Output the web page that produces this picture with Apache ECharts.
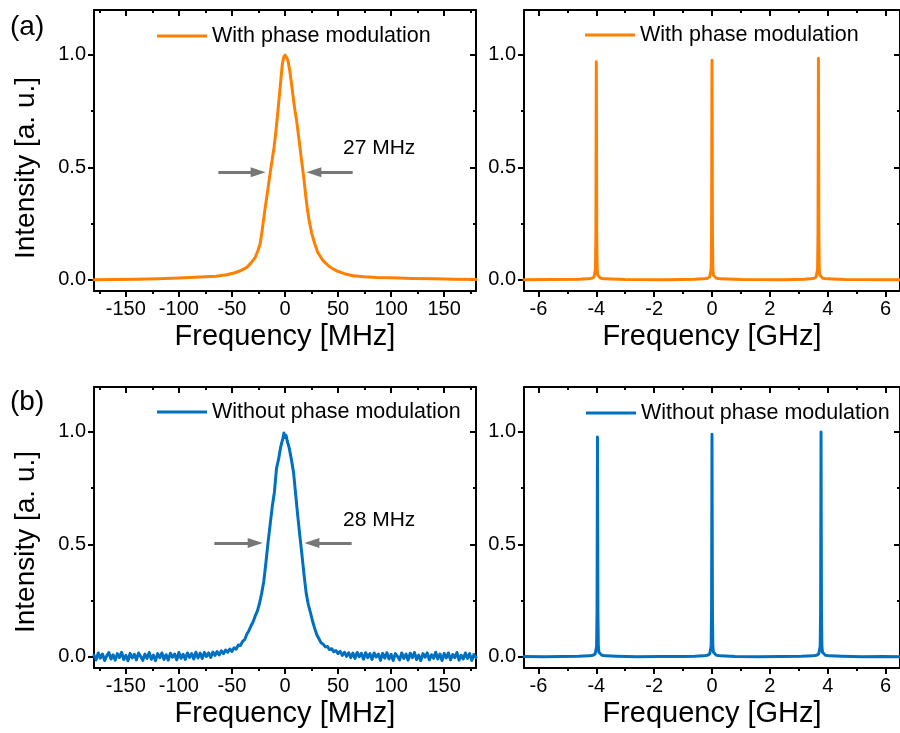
<!DOCTYPE html>
<html>
<head>
<meta charset="utf-8">
<script src="https://cdn.jsdelivr.net/npm/echarts@6/dist/echarts.min.js"></script>
<style>html,body{margin:0;padding:0;background:#fff;}#c{width:900px;height:733px;}</style>
</head>
<body>
<div id="c"></div>
<script>
// ---- data ----
const seriesNames = ['With phase modulation', 'Without phase modulation'];
const colors = ['#FF8000', '#0070C0'];

// (a) left: with phase modulation, MHz
const aFreq = [-180,-160,-140,-120,-100,-80,-65,-55,-48,-42,-36,-32,-28,-25.5,-23.4,-21.5,-20.3,-18.7,-17.2,-15.6,-14.1,-12.2,-10.3,-8.7,-7.2,-5.5,-4,-2.5,-1.2,0,1,2,3,4.5,6.2,8,9.5,10.9,12.5,14.1,15.6,17.2,18.5,19.7,21.2,22.8,25,28.1,31,35.9,42,48.4,56,64,75,86,100,120,140,160,180];
const aInt = [0.000,0.001,0.002,0.005,0.008,0.012,0.016,0.022,0.030,0.040,0.055,0.075,0.100,0.130,0.160,0.220,0.263,0.320,0.367,0.420,0.472,0.530,0.590,0.655,0.725,0.810,0.885,0.960,0.990,1.000,0.995,0.985,0.970,0.930,0.870,0.800,0.750,0.710,0.650,0.590,0.530,0.472,0.420,0.367,0.310,0.263,0.210,0.159,0.120,0.085,0.058,0.040,0.027,0.018,0.013,0.010,0.009,0.006,0.004,0.002,0.001];

// (b) left: without phase modulation, MHz
const bFreq = [
-180,-178,-176,-174,-172,-170,-168,-166,-164,-162,
-160,-158,-156,-154,-152,-150,-148,-146,-144,-142,
-140,-138,-136,-134,-132,-130,-128,-126,-124,-122,
-120,-118,-116,-114,-112,-110,-108,-106,-104,-102,
-100,-98,-96,-94,-92,-90,-88,-86,-84,-82,
-80,-78,-76,-74,-72,-70,-68,-66,-64,-62,
-60,-58,-56,-54,-52,-50,-48,-46,-44,-42,
-40,-38,-36,-34,-32,-30,-28,-26,-24,-22,
-20,-18,-16,-14,-12,-10,-8,-6,-4,-2,
-1,0,1,
2,4,6,8,10,12,14,16,18,20,
22,24,26,28,30,32,34,36,38,40,
42,44,46,48,50,52,54,56,58,60,
62,64,66,68,70,72,74,76,78,80,
82,84,86,88,90,92,94,96,98,100,
102,104,106,108,110,112,114,116,118,120,
122,124,126,128,130,132,134,136,138,140,
142,144,146,148,150,152,154,156,158,160,
162,164,166,168,170,172,174,176,178,180];
const bInt = [
0.007,-0.014,0.017,-0.006,0.012,-0.017,0.004,0.019,-0.010,0.009,
-0.015,0.014,-0.003,0.020,-0.012,0.006,-0.018,0.015,-0.005,0.011,
-0.014,0.017,0.001,-0.016,0.012,-0.007,0.019,-0.011,0.007,-0.017,
0.014,-0.004,0.017,-0.012,0.009,-0.015,0.016,-0.002,0.012,-0.014,
0.019,-0.007,0.011,-0.012,0.017,-0.003,0.014,-0.010,0.020,-0.005,
0.016,-0.008,0.019,0.001,0.017,-0.003,0.021,0.006,0.023,0.008,
0.026,0.014,0.030,0.020,0.034,0.024,0.040,0.034,0.052,0.050,
0.068,0.076,0.100,0.116,0.138,0.156,0.182,0.204,0.238,0.282,
0.335,0.418,0.508,0.588,0.668,0.732,0.838,0.880,0.935,0.972,
0.995,0.975,0.985,
0.962,0.928,0.878,0.822,0.725,0.628,0.538,0.452,0.362,0.282,
0.232,0.196,0.158,0.126,0.098,0.080,0.062,0.056,0.044,0.046,
0.032,0.036,0.022,0.028,0.014,0.024,0.006,0.020,0.002,0.018,
-0.004,0.016,-0.007,0.019,0.000,0.015,-0.011,0.018,-0.004,0.014,
-0.012,0.017,-0.001,0.012,-0.016,0.015,-0.006,0.018,-0.010,0.011,
-0.017,0.014,0.002,-0.014,0.017,-0.007,0.012,-0.015,0.016,-0.004,
0.019,-0.012,0.007,-0.017,0.014,-0.002,0.017,-0.014,0.009,-0.007,
0.020,-0.010,0.012,-0.017,0.015,-0.005,0.017,-0.014,0.010,-0.004,
0.019,-0.015,0.007,-0.010,0.017,-0.007,0.014,-0.017,0.010,-0.003];

// (a) right: with phase modulation, GHz
const cFreq = [-6.5,-5.5,-4.6,-4.3,-4.15,-4.08,-4.05,-4.03,-4.015,-4.007,-4.0,-3.993,-3.985,-3.97,-3.95,-3.92,-3.85,-3.7,-3.0,-1.5,-0.6,-0.3,-0.15,-0.08,-0.05,-0.03,-0.015,-0.007,0.0,0.007,0.015,0.03,0.05,0.08,0.15,0.3,1.0,2.5,3.2,3.38,3.53,3.6,3.63,3.65,3.665,3.673,3.68,3.687,3.695,3.71,3.73,3.76,3.83,3.98,4.6,6.5];
const cInt = [0.000,0.001,0.002,0.004,0.007,0.012,0.020,0.045,0.200,0.600,0.970,0.600,0.200,0.045,0.020,0.012,0.007,0.004,0.001,0.000,0.002,0.004,0.007,0.012,0.020,0.045,0.200,0.600,0.976,0.600,0.200,0.045,0.020,0.012,0.007,0.004,0.001,0.000,0.002,0.004,0.007,0.012,0.020,0.045,0.200,0.600,0.985,0.600,0.200,0.045,0.020,0.012,0.007,0.004,0.001,0.000];

// (b) right: without phase modulation, GHz
const dFreq = [-6.5,-5.8,-5.2,-4.6,-4.26,-4.11,-4.04,-4.01,-3.99,-3.975,-3.967,-3.96,-3.953,-3.945,-3.93,-3.91,-3.88,-3.81,-3.66,-3.3,-2.6,-1.8,-1.0,-0.6,-0.3,-0.15,-0.08,-0.05,-0.03,-0.015,-0.007,0.0,0.007,0.015,0.03,0.05,0.08,0.15,0.3,0.8,1.6,2.4,3.1,3.47,3.62,3.69,3.72,3.74,3.755,3.763,3.77,3.777,3.785,3.80,3.82,3.85,3.92,4.07,4.5,5.2,5.9,6.5];
const dInt = [0.001,0.000,0.001,0.002,0.004,0.007,0.012,0.020,0.045,0.200,0.600,0.978,0.600,0.200,0.045,0.020,0.012,0.007,0.004,0.002,0.000,0.001,0.001,0.002,0.004,0.007,0.012,0.020,0.045,0.200,0.600,0.990,0.600,0.200,0.045,0.020,0.012,0.007,0.004,0.001,0.000,0.001,0.002,0.004,0.007,0.012,0.020,0.045,0.200,0.600,1.000,0.600,0.200,0.045,0.020,0.012,0.007,0.004,0.002,0.000,0.001,0.000];

// ticks
const mhzMajor = [-150,-100,-50,0,50,100,150];
const mhzMinor = [-175,-125,-75,-25,25,75,125,175];
const ghzMajor = [-6,-4,-2,0,2,4,6];
const ghzMinor = [-5,-3,-1,1,3,5];
const yMajor = [0,0.5,1.0];
const yMinor = [0.25,0.75];

const widthLabels = ['27 MHz', '28 MHz'];
const panelLabels = ['(a)', '(b)'];
const xTitles = ['Frequency [MHz]', 'Frequency [GHz]'];
const yTitle = 'Intensity [a. u.]';

// ---- layout ----
const FONT = '"Liberation Sans", Arial, Helvetica, sans-serif';
const grids = [
  {left: 94, top: 10, width: 382, height: 281},
  {left: 524, top: 10, width: 382, height: 281},
  {left: 94, top: 387, width: 382, height: 281},
  {left: 524, top: 387, width: 382, height: 281}
];
const black = '#000';
function mkAxes(kind, gi, min, max, major, minor, name) {
  const isX = kind === 'x';
  const pos1 = isX ? 'bottom' : 'left';
  const pos2 = isX ? 'top' : 'right';
  const base = {type: 'value', gridIndex: gi, min: min, max: max, splitLine: {show: false}, scale: false};
  const tickStyle = {color: black, width: 2};
  const main = Object.assign({}, base, {
    position: pos1,
    axisLine: {show: true, onZero: false, lineStyle: {color: black, width: 2}},
    axisTick: {show: true, inside: false, length: 6, customValues: major, lineStyle: tickStyle},
    axisLabel: {show: true, customValues: major, color: black, fontSize: 20, fontFamily: FONT, margin: 8,
      formatter: isX ? (v => String(v)) : (v => v.toFixed(1))}
  });
  if (isX && name) {
    Object.assign(main, {name: name, nameLocation: 'middle', nameGap: 31,
      nameTextStyle: {color: black, fontSize: 29, fontFamily: FONT}});
  }
  const minor1 = Object.assign({}, base, {
    position: pos1,
    axisLine: {show: false, onZero: false},
    axisTick: {show: true, inside: false, length: 3, customValues: minor, lineStyle: tickStyle},
    axisLabel: {show: false}
  });
  const mirror = Object.assign({}, base, {
    position: pos2,
    axisLine: {show: true, onZero: false, lineStyle: {color: black, width: 2}},
    axisTick: {show: true, inside: true, length: 6, customValues: major, lineStyle: tickStyle},
    axisLabel: {show: false}
  });
  const minor2 = Object.assign({}, base, {
    position: pos2,
    axisLine: {show: false, onZero: false},
    axisTick: {show: true, inside: true, length: 3, customValues: minor, lineStyle: tickStyle},
    axisLabel: {show: false}
  });
  return [main, minor1, mirror, minor2];
}

const xAxis = [].concat(
  mkAxes('x', 0, -180, 180, mhzMajor, mhzMinor, xTitles[0]),
  mkAxes('x', 1, -6.5, 6.5, ghzMajor, ghzMinor, xTitles[1]),
  mkAxes('x', 2, -180, 180, mhzMajor, mhzMinor, xTitles[0]),
  mkAxes('x', 3, -6.5, 6.5, ghzMajor, ghzMinor, xTitles[1])
);
const yAxis = [].concat(
  mkAxes('y', 0, -0.05, 1.2, yMajor, yMinor),
  mkAxes('y', 1, -0.05, 1.2, yMajor, yMinor),
  mkAxes('y', 2, -0.05, 1.2, yMajor, yMinor),
  mkAxes('y', 3, -0.05, 1.2, yMajor, yMinor)
);

function zip(xs, ys) { return xs.map((x, i) => [x, ys[i]]); }

const arrowStyle = {color: '#777777', width: 3, type: 'solid'};
function arrows(left, right, y) {
  return {
    silent: true, animation: false,
    symbol: ['none', 'triangle'], symbolSize: [10, 15],
    lineStyle: arrowStyle, itemStyle: {color: '#777777'},
    label: {show: false}, emphasis: {disabled: true},
    data: [
      [{coord: [left[0], y]}, {coord: [left[1], y]}],
      [{coord: [right[0], y]}, {coord: [right[1], y]}]
    ]
  };
}

function lineSeries(name, color, data, gi, width, extra) {
  return Object.assign({
    type: 'line', name: name, data: data,
    xAxisIndex: gi * 4, yAxisIndex: gi * 4,
    showSymbol: false, symbol: 'none', clip: true,
    lineStyle: {color: color, width: width, join: 'round', cap: 'round'},
    itemStyle: {color: color},
    animation: false, silent: true
  }, extra || {});
}

const series = [
  lineSeries(seriesNames[0], colors[0], zip(aFreq, aInt), 0, 3,
    {markLine: arrows([-62.8, -25.3], [63.8, 27.2], 0.478)}),
  lineSeries(seriesNames[0], colors[0], zip(cFreq, cInt), 1, 3),
  lineSeries(seriesNames[1], colors[1], zip(bFreq, bInt), 2, 3,
    {markLine: arrows([-66.6, -28.1], [62.8, 25.3], 0.506)}),
  lineSeries(seriesNames[1], colors[1], zip(dFreq, dInt), 3, 3)
];

function legend(name, left, top) {
  return {
    data: [name], left: left, top: top, padding: 0, orient: 'horizontal',
    icon: 'rect', itemWidth: 50, itemHeight: 3, selectedMode: false,
    textStyle: {color: black, fontSize: 21.5, fontFamily: FONT}
  };
}

const textStyleBase = {fill: black, fontFamily: FONT};
const graphic = [
  {type: 'text', left: 10, top: 13, style: Object.assign({text: panelLabels[0], fontSize: 28}, textStyleBase)},
  {type: 'text', left: 10, top: 388, style: Object.assign({text: panelLabels[1], fontSize: 28}, textStyleBase)},
  {type: 'text', x: 26, y: 168, rotation: Math.PI / 2,
    style: Object.assign({text: yTitle, fontSize: 28, align: 'center', verticalAlign: 'middle'}, textStyleBase)},
  {type: 'text', x: 26, y: 542, rotation: Math.PI / 2,
    style: Object.assign({text: yTitle, fontSize: 28, align: 'center', verticalAlign: 'middle'}, textStyleBase)},
  {type: 'text', left: 343, top: 138, style: Object.assign({text: widthLabels[0], fontSize: 21}, textStyleBase)},
  {type: 'text', left: 343, top: 510, style: Object.assign({text: widthLabels[1], fontSize: 21}, textStyleBase)}
];

const chart = echarts.init(document.getElementById('c'), null, {renderer: 'canvas'});
chart.setOption({
  backgroundColor: '#fff',
  animation: false,
  grid: grids.map(g => Object.assign({containLabel: false, show: false}, g)),
  xAxis: xAxis,
  yAxis: yAxis,
  legend: [
    legend(seriesNames[0], 157, 25),
    legend(seriesNames[0], 585, 24),
    legend(seriesNames[1], 157, 401),
    legend(seriesNames[1], 586, 402)
  ],
  graphic: graphic,
  series: series
});
</script>
</body>
</html>
